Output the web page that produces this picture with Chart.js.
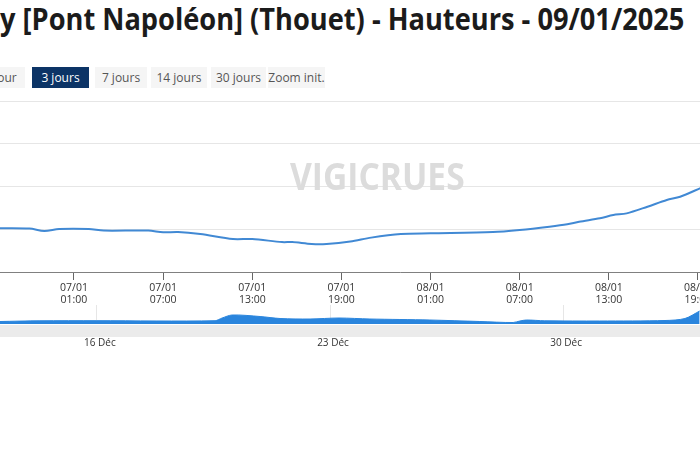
<!DOCTYPE html>
<html lang="fr">
<head>
<meta charset="utf-8">
<script src="https://cdn.jsdelivr.net/npm/chart.js@4.4.1/dist/chart.umd.min.js"></script>
<style>
  html, body { margin: 0; padding: 0; background: #fff; }
  body { width: 700px; height: 450px; overflow: hidden; position: relative; font-family: "Open Sans", sans-serif; }
  #title { position: absolute; left: 0; top: 4px; font-size: 30px; line-height: 30px; font-weight: 700; color: #1b1b1b; white-space: nowrap; transform-origin: left top; }
  .btn { position: absolute; top: 67px; height: 21px; line-height: 21px; font-size: 12px; text-align: center; background: #f5f5f5; color: #555; white-space: nowrap; }
  .btn.on { background: #0c3466; color: #fff; }
  #mark { position: absolute; left: 290px; top: 156px; font-size: 38px; line-height: 38px; font-weight: 700; color: #dcdcdc; white-space: nowrap; transform-origin: left top; z-index: 2; }
  #mainBox { position: absolute; left: 0; top: 95px; width: 800px; height: 215px; }
  #navBox { position: absolute; left: 0; top: 300px; width: 800px; height: 50px; }
  #scroll { position: absolute; left: 0; top: 325px; width: 700px; height: 12px; background: #ebebeb; }
</style>
</head>
<body>
<div id="title">y [Pont Napoléon] (Thouet) - Hauteurs - 09/01/2025</div>
<div class="btn" style="left:-24px;width:49px">1 jour</div>
<div class="btn on" style="left:32px;width:57px">3 jours</div>
<div class="btn" style="left:95px;width:52px">7 jours</div>
<div class="btn" style="left:151px;width:56px">14 jours</div>
<div class="btn" style="left:211px;width:55px">30 jours</div>
<div class="btn" style="left:268px;width:57px">Zoom init.</div>
<div id="scroll"></div>
<div id="mainBox"><canvas id="mainChart"></canvas></div>
<div id="navBox"><canvas id="navChart"></canvas></div>
<div id="mark">VIGICRUES</div>
<script>
// heures depuis le 06/01 00:00, hauteurs en m
const hours = [20, 22, 23, 24, 26, 27, 30, 31, 32, 33.5, 35.7, 37, 39, 39.7, 41, 42, 43.6, 45, 47, 49, 53.2, 55, 57, 58.2, 59, 60.4, 61.3, 62.2, 63.6, 64.9, 65.8, 67.2];
const heights = [1.256, 1.254, 1.240, 1.251, 1.251, 1.242, 1.242, 1.232, 1.234, 1.222, 1.193, 1.193, 1.175, 1.175, 1.164, 1.164, 1.178, 1.201, 1.222, 1.226, 1.234, 1.246, 1.265, 1.279, 1.294, 1.314, 1.333, 1.343, 1.382, 1.421, 1.440, 1.492];
const tickHours = [25, 31, 37, 43, 49, 55, 61, 67];
const tickLabels = [["07/01", "01:00"], ["07/01", "07:00"], ["07/01", "13:00"], ["07/01", "19:00"],
                    ["08/01", "01:00"], ["08/01", "07:00"], ["08/01", "13:00"], ["08/01", "19:00"]];

// navigateur : jours depuis le 13 déc.
const navDays = [0.09, 1.29, 3.0, 6.55, 6.76, 7.06, 7.9, 8.5, 9.4, 10.27, 11.2, 13.0, 14.5, 15.5, 15.7, 15.9, 16.45, 18.1, 20.06, 20.66, 21.1];
const navHeights = [1.175, 1.224, 1.231, 1.231, 1.42, 1.63, 1.525, 1.385, 1.35, 1.42, 1.35, 1.28, 1.175, 1.105, 1.21, 1.28, 1.224, 1.21, 1.245, 1.385, 1.91];
const navTickDays = [3, 10, 17];
const navTickLabels = ["16 Déc", "23 Déc", "30 Déc"];

function fitWidth(el, w) {
  const r = el.scrollWidth;
  el.style.transform = `scaleX(${w / r})`;
}
fitWidth(document.getElementById("title"), 684);
fitWidth(document.getElementById("mark"), 175);

const font = "'Open Sans', sans-serif";

new Chart(document.getElementById("mainChart"), {
  type: "line",
  data: {
    datasets: [{
      data: hours.map((h, i) => ({ x: h, y: heights[i] })),
      borderColor: "#4189d4",
      borderWidth: 2,
      pointRadius: 0,
      tension: 0.3,
      fill: false
    }]
  },
  options: {
    responsive: true,
    maintainAspectRatio: false,
    animation: false,
    devicePixelRatio: 1,
    layout: { padding: { top: 6, left: 0, right: 0, bottom: 0 } },
    plugins: { legend: { display: false }, tooltip: { enabled: false } },
    scales: {
      x: {
        type: "linear",
        min: 20.02,
        max: 20.02 + 800 / 14.857,
        afterBuildTicks: s => { s.ticks = tickHours.map(value => ({ value })); },
        afterFit: s => { s.height = 38; },
        ticks: {
          autoSkip: false,
          maxRotation: 0,
          padding: 2,
          color: "#333",
          font: { family: font, size: 10.5, lineHeight: 1.15 },
          callback: (v, i) => tickLabels[i]
        },
        grid: { drawOnChartArea: false, drawTicks: true, tickLength: 8, color: "#666" },
        border: { color: "#808080", width: 1 }
      },
      y: {
        min: 1,
        max: 2,
        afterFit: s => { s.width = 0; },
        ticks: { stepSize: 0.25, display: false },
        grid: { color: "#e6e6e6", drawTicks: false },
        border: { display: false }
      }
    }
  }
});

new Chart(document.getElementById("navChart"), {
  type: "line",
  data: {
    datasets: [{
      data: navDays.map((d, i) => ({ x: d, y: navHeights[i] })),
      borderColor: "#2a85dd",
      backgroundColor: "#2a85dd",
      borderWidth: 1,
      pointRadius: 0,
      tension: 0.3,
      fill: "start"
    }]
  },
  options: {
    responsive: true,
    maintainAspectRatio: false,
    animation: false,
    devicePixelRatio: 1,
    layout: { padding: { top: 5, left: 0, right: 0, bottom: 0 } },
    plugins: { legend: { display: false }, tooltip: { enabled: false } },
    scales: {
      x: {
        type: "linear",
        min: 0.09,
        max: 0.09 + 800 / 33.3,
        afterBuildTicks: s => { s.ticks = navTickDays.map(value => ({ value })); },
        afterFit: s => { s.height = 26; },
        ticks: {
          autoSkip: false,
          maxRotation: 0,
          padding: 13,
          labelOffset: 3,
          color: "#333",
          font: { family: font, size: 10, lineHeight: 1.2 },
          callback: (v, i) => navTickLabels[i]
        },
        grid: { color: "#e6e6e6", drawTicks: false },
        border: { display: false }
      },
      y: { display: false, min: 1.0, max: 2.33 }
    }
  }
});
</script>
</body>
</html>
